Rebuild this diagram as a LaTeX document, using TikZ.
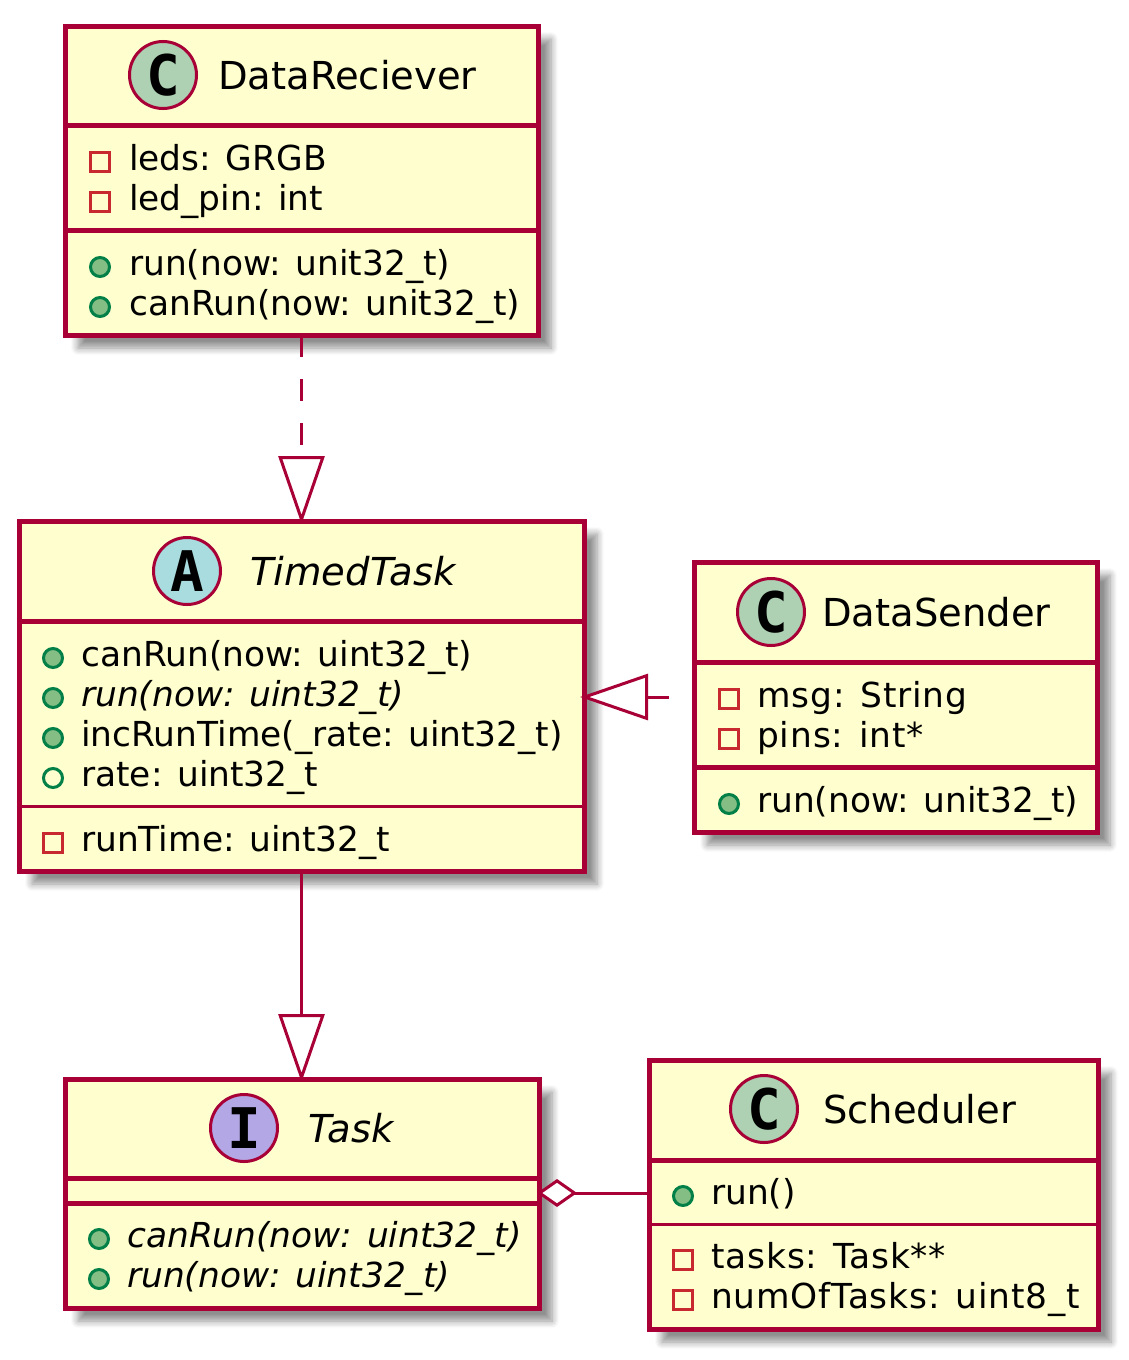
\documentclass[tikz,border=0pt]{standalone}
\usepackage{fontspec}
\setmainfont{DejaVu Sans}
\setmonofont{DejaVu Sans Mono}
\usetikzlibrary{arrows.meta,shadows.blur}
\definecolor{Crimson}{HTML}{A80036}
\definecolor{Cream}{HTML}{FEFECE}
\definecolor{SpotC}{HTML}{ADD1B2}
\definecolor{SpotA}{HTML}{A9DCDF}
\definecolor{SpotI}{HTML}{B4A7E5}
\definecolor{PubFill}{HTML}{84BE84}
\definecolor{PubLine}{HTML}{038048}
\definecolor{PrivLine}{HTML}{C82930}
\newcommand{\widetext}{\addfontfeature{LetterSpace=2.5}}

\begin{document}
\begin{tikzpicture}[x=1pt,y=-1pt,
    classbox/.style={draw=Crimson,fill=Cream,line width=5pt,anchor=north west,outer sep=0pt,inner sep=0pt,
                     blur shadow={shadow xshift=13pt,shadow yshift=-13pt,shadow blur radius=7pt,shadow blur steps=7,shadow opacity=44}},
    spot/.style={circle,draw=Crimson,line width=3pt,minimum size=67pt,inner sep=0pt,outer sep=0pt,
                 font=\fontsize{56}{56}\selectfont\ttfamily\bfseries},
    title/.style={anchor=base west,inner sep=0pt,font=\fontsize{38.5}{40}\selectfont},
    member/.style={anchor=base west,inner sep=0pt,font=\fontsize{34.4}{40}\selectfont},
    pubop/.style={circle,draw=PubLine,fill=PubFill,line width=3pt,minimum size=19pt,inner sep=0pt},
    pubfield/.style={circle,draw=PubLine,line width=3pt,minimum size=19pt,inner sep=0pt},
    privfield/.style={rectangle,draw=PrivLine,line width=3pt,minimum size=19pt,inner sep=0pt},
    heavy/.style={Crimson,line width=5pt},
    thin/.style={Crimson,line width=3pt},
    link/.style={Crimson,line width=3pt},
    realize/.style={link,shorten >=-3pt,-{Triangle[open,fill=white,length=68pt,width=46pt,line width=3pt]}},
    hold/.style={link,shorten <=-2pt,{Diamond[open,fill=white,length=40pt,width=28pt,line width=3pt]}-}
  ]
    \useasboundingbox (0,0) rectangle (1129,1360);
    % boxes
    \node[classbox,minimum width=473pt,minimum height=309pt] (reciever) at (65,26) {};
    \node[classbox,minimum width=565pt,minimum height=350pt] (timed) at (19,521) {};
    \node[classbox,minimum width=403pt,minimum height=270pt] (sender) at (694,562) {};
    \node[classbox,minimum width=474pt,minimum height=229pt] (task) at (65,1079) {};
    \node[classbox,minimum width=449pt,minimum height=269pt] (scheduler) at (649,1060) {};
    % compartments
    \draw[heavy] ([yshift=-99pt]reciever.north west) -- ([yshift=-99pt]reciever.north east);
    \draw[heavy] ([yshift=-204pt]reciever.north west) -- ([yshift=-204pt]reciever.north east);
    \draw[heavy] ([yshift=-100pt]timed.north west) -- ([yshift=-100pt]timed.north east);
    \draw[thin] ([yshift=-285pt]timed.north west) -- ([yshift=-285pt]timed.north east);
    \draw[heavy] ([yshift=-100pt]sender.north west) -- ([yshift=-100pt]sender.north east);
    \draw[heavy] ([yshift=-205pt]sender.north west) -- ([yshift=-205pt]sender.north east);
    \draw[heavy] ([yshift=-99pt]task.north west) -- ([yshift=-99pt]task.north east);
    \draw[heavy] ([yshift=-124pt]task.north west) -- ([yshift=-124pt]task.north east);
    \draw[heavy] ([yshift=-100pt]scheduler.north west) -- ([yshift=-100pt]scheduler.north east);
    \draw[thin] ([yshift=-164pt]scheduler.north west) -- ([yshift=-164pt]scheduler.north east);
    % headers
    \node[spot,fill=SpotC] (recspot) at (163,75) {C};
    \node[title] (rectitle) at (218,89) {DataReciever};
    \node[spot,fill=SpotA] (timedspot) at (187,571) {A};
    \node[title] (timedtitle) at (250,585) {\itshape TimedTask};
    \node[spot,fill=SpotC] (sendspot) at (771,612) {C};
    \node[title] (sendtitle) at (822,626) {DataSender};
    \node[spot,fill=SpotI] (taskspot) at (244,1128) {I};
    \node[title] (tasktitle) at (308,1142) {\itshape Task};
    \node[spot,fill=SpotC] (schedspot) at (764,1109) {C};
    \node[title] (schedtitle) at (823,1123) {Scheduler};
    % members
    \foreach \n/\y/\t in {a/170/{leds: GRGB},b/210/{led\_pin: int}} {
      \node[privfield] (rec\n icon) at (100,\y-8) {};
      \node[member] (rec\n) at (129,\y) {\t};
    }
    \foreach \n/\y/\t in {c/275/{run(now: unit32\_t)},d/315/{canRun(now: unit32\_t)}} {
      \node[pubop] (rec\n icon) at (100,\y-8) {};
      \node[member] (rec\n) at (129,\y) {\t};
    }
    \foreach \n/\y/\t in {a/666/{canRun(now: uint32\_t)},b/706/{\itshape run(now: uint32\_t)},c/746/{incRunTime(\_rate: uint32\_t)}} {
      \node[pubop] (timed\n icon) at (53,\y-8) {};
      \node[member] (timed\n) at (81,\y) {\t};
    }
    \node[pubfield] (timedd icon) at (53,778) {};
    \node[member] (timedd) at (81,786) {rate: uint32\_t};
    \node[privfield] (timede icon) at (53,843) {};
    \node[member] (timede) at (81,851) {runTime: uint32\_t};
    \foreach \n/\y/\t in {a/707/{msg: String},b/747/{pins: int*}} {
      \node[privfield] (send\n icon) at (729,\y-8) {};
      \node[member] (send\n) at (757,\y) {\widetext\t};
    }
    \node[pubop] (sendc icon) at (729,804) {};
    \node[member] (sendc) at (757,812) {run(now: unit32\_t)};
    \foreach \n/\y/\t in {a/1247/{canRun(now: uint32\_t)},b/1287/{run(now: uint32\_t)}} {
      \node[pubop] (task\n icon) at (99,\y-8) {};
      \node[member] (task\n) at (127,\y) {\itshape\t};
    }
    \node[pubop] (scheda icon) at (683,1196) {};
    \node[member] (scheda) at (711,1204) {run()};
    \foreach \n/\y/\t in {b/1268/{tasks: Task**},c/1308/{numOfTasks: uint8\_t}} {
      \node[privfield] (sched\n icon) at (683,\y-8) {};
      \node[member] (sched\n) at (711,\y) {\widetext\t};
    }
    % links
    \draw[realize,dash pattern=on 22pt off 22pt] (reciever.south) -- (timed.north);
    \draw[link,dash pattern=on 22pt off 40pt,shorten <=-4pt,
          {Triangle[open,fill=white,length=68pt,width=46pt,line width=3pt]}-] (timed.east |- sender.west) -- (sender.west);
    \draw[realize] (timed.south) -- (timed.south |- task.north);
    \draw[hold] (task.east |- 0,1193) -- (scheduler.west |- 0,1193);
\end{tikzpicture}
\end{document}
